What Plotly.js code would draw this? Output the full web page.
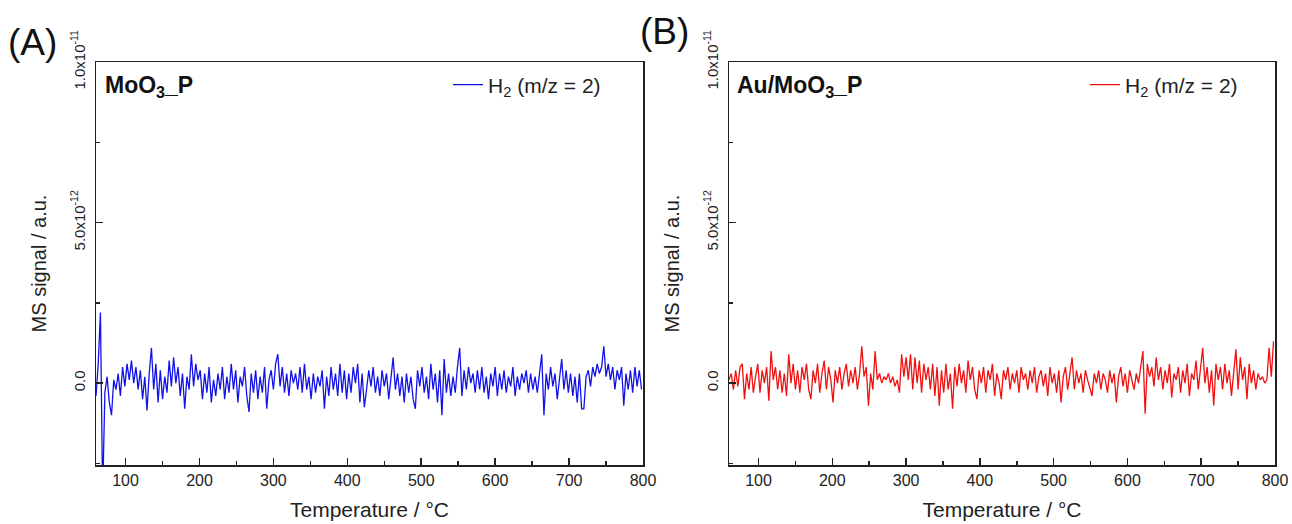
<!DOCTYPE html>
<html>
<head>
<meta charset="utf-8">
<script src="https://cdn.plot.ly/plotly-3.0.1.min.js"></script>
<style>
  html, body { margin: 0; padding: 0; background: #ffffff; }
  #chart { width: 1292px; height: 524px; }
</style>
</head>
<body>
<div id="chart"></div>
<script>
// ---- Data (signal values in units of 1e-12 a.u.) ----
const T_START = 60;      // first temperature sample, °C
const T_STEP = 3;        // temperature sampling step, °C
const SIGNAL_UNIT = 1e-12;

// Panel (A) MoO3_P, H2 (m/z = 2)
const h2_MoO3_P = [
  -0.4, 0.6, 2.2, -3.5,
  -0.3, 0.2, -0.6, -1.0, 0.1, -0.2, 0.3, -0.4, 0.5, -0.1,
  0.6, 0.1, 0.7, 0.0, 0.5, -0.2, 0.4, -0.5, 0.2, -0.85,
  0.3, 1.1, -0.2, 0.6, -0.6, 0.4, -0.5, 0.2, -0.3, 0.7,
  -0.1, 0.8, 0.0, 0.5, -0.4, 0.3, -0.8, 0.2, -0.2, 0.9,
  -0.1, 0.6, 0.1, 0.4, -0.5, 0.3, -0.3, 0.5, -0.6, 0.1,
  -0.4, 0.3, -0.2, 0.5, -0.5, 0.2, -0.3, 0.6, -0.2, 0.4,
  -0.6, 0.2, -0.1, 0.5, -0.4, -0.9, 0.3, -0.3, 0.4, -0.5,
  0.2, -0.3, 0.5, -0.8, 0.1, 0.4, -0.2, 0.6, 0.9, -0.1,
  0.5, -0.3, 0.3, -0.4, 0.4, 0.0, 0.3, -0.2, 0.5, -0.3,
  0.6, -0.2, 0.2, -0.5, 0.3, -0.3, 0.2, -0.1, 0.4, -0.8,
  0.2, -0.4, 0.5, -0.2, 0.3, -0.4, 0.6, -0.3, 0.4, -0.5,
  0.3, -0.3, 0.5, 0.0, 0.6, -0.6, 0.3, -0.75, -0.2, 0.4,
  -0.1, 0.5, -0.3, 0.2, -0.4, 0.4, -0.1, 0.3, -0.5, 0.1,
  0.8, -0.2, 0.3, -0.4, 0.2, -0.6, 0.3, -0.3, 0.2, -0.5,
  -0.8, 0.4, -0.1, 0.5, -0.3, 0.2, -0.5, 0.6, -0.2, 0.3,
  -0.6, 0.4, -1.0, 0.75, -0.3, 0.3, -0.4, 0.2, -0.3, 0.5,
  1.1, -0.4, 0.4, -0.2, 0.5, 0.0, 0.3, -0.3, 0.4, -0.2,
  0.5, -0.3, 0.2, -0.5, 0.3, -0.1, 0.5, -0.4, 0.3, -0.2,
  0.4, -0.3, 0.2, -0.1, 0.5, -0.4, 0.2, -0.2, 0.3, 0.0,
  0.4, -0.3, 0.3, -0.2, 0.2, -0.3, 0.4, 0.9, -1.0, 0.3,
  -0.2, 0.5, -0.1, 0.3, -0.5, 0.2, 0.75, -0.2, 0.4, -0.3,
  0.3, -0.4, 0.2, -0.6, 0.3, -0.8, -0.8, 0.2, 0.4, -0.1,
  0.5, 0.2, 0.6, 0.3, 0.5, 1.15, 0.2, 0.6, 0.1, 0.5,
  -0.2, 0.4, 0.1, 0.5, -0.7, 0.3, -0.2, 0.4, -0.3, 0.5,
  -0.1, 0.4, -0.2
];

// Panel (B) Au/MoO3_P, H2 (m/z = 2)
const h2_AuMoO3_P = [
  0.1, 0.3, -0.2, 0.4,
  -0.1, 0.5, 0.6, -0.5, 0.3, -0.2, 0.5, -0.3, 0.2, 0.6,
  -0.3, 0.4, 0.0, 0.5, -0.55, 1.0, 0.1, 0.5, -0.2, 0.4,
  -0.3, 0.3, -0.4, 0.9, 0.0, 0.6, -0.2, 0.4, -0.3, 0.5,
  0.1, 0.6, -0.2, -0.5, 0.4, 0.0, 0.6, -0.3, 0.3, 0.7,
  -0.2, 0.5, 0.1, -0.6, 0.4, 0.0, 0.5, -0.2, 0.3, 0.6,
  -0.1, 0.4, 0.0, 0.5, -0.2, 0.3, 1.15, 0.2, 0.5, -0.7,
  0.3, -0.2, 1.0, 0.1, 0.3, 0.0, 0.2, 0.1, 0.3, 0.0,
  0.2, -0.1, 0.1, -0.3, 0.9, 0.2, 0.8, 0.1, 0.9, -0.2,
  0.8, 0.0, 0.7, -0.3, 0.6, 0.1, 0.5, -0.2, 0.6, -0.4,
  0.5, -0.7, 0.4, -0.3, 0.6, -0.2, 0.3, -0.8, 0.5, -0.1,
  0.6, 0.0, 0.4, -0.3, 0.7, 0.1, 0.5, -0.2, -0.5, 0.4,
  0.0, 0.5, -0.3, 0.4, 0.1, 0.6, -0.4, 0.3, 0.0, -0.5,
  0.4, 0.1, 0.5, -0.2, 0.3, 0.0, 0.4, -0.3, 0.5, 0.1,
  0.3, -0.2, 0.4, 0.0, 0.5, -0.3, 0.2, 0.4, -0.1, 0.3,
  -0.4, 0.5, 0.0, 0.3, -0.3, 0.4, -0.6, 0.2, 0.5, -0.2,
  0.3, 0.8, -0.2, 0.4, 0.0, 0.3, -0.3, 0.4, 0.1, -0.2,
  -0.4, 0.3, 0.0, 0.4, -0.2, 0.3, 0.1, -0.3, 0.4, 0.0,
  0.3, -0.6, 0.2, 0.5, -0.1, 0.3, -0.3, 0.4, 0.1, -0.2,
  0.3, 0.0, 0.5, 1.0, -0.95, 0.6, 0.2, 0.5, -0.1, 0.8,
  0.1, 0.5, -0.2, 0.4, 0.0, 0.6, -0.45, 0.3, 0.1, 0.5,
  -0.3, 0.4, 0.0, 0.6, -0.4, 0.3, 0.1, 0.7, -0.2, 0.4,
  1.1, 0.0, 0.5, -0.3, 0.4, -0.7, 0.6, 0.1, 0.5, -0.2,
  0.6, 0.0, 0.4, -0.4, 0.3, 1.05, -0.2, 0.8, 0.1, 0.5,
  -0.5, 0.6, 0.0, 0.4, -0.2, 0.3, 0.1, 0.2, 0.0, 0.1,
  1.1, 0.2, 1.3
];

const panelLabels = ['(A)', '(B)'];
const sampleNames = ['MoO<sub>3</sub>_P', 'Au/MoO<sub>3</sub>_P'];
const seriesName = 'H<sub>2</sub> (m/z = 2)';
const yTickVals = [0, 5e-12, 1e-11];
const yTickText = ['0.0', '5.0x10<sup>-12</sup>', '1.0x10<sup>-11</sup>'];
const xTitle = 'Temperature / °C';
const yTitle = 'MS signal / a.u.';

// ---- Build traces ----
function temps(n) { const t = []; for (let i = 0; i < n; i++) t.push(T_START + i * T_STEP); return t; }
const yA = h2_MoO3_P.map(v => v * SIGNAL_UNIT);
const yB = h2_AuMoO3_P.map(v => v * SIGNAL_UNIT);

const W = 1292, H = 524;
const FONT = 'Liberation Sans, Arial, sans-serif';

const traces = [
  { x: temps(yA.length), y: yA, type: 'scatter', mode: 'lines', name: seriesName,
    line: { color: '#1212e8', width: 1.3 }, xaxis: 'x', yaxis: 'y', legend: 'legend' },
  { x: temps(yB.length), y: yB, type: 'scatter', mode: 'lines', name: seriesName,
    line: { color: '#f01010', width: 1.3 }, xaxis: 'x2', yaxis: 'y2', legend: 'legend2' }
];

function xAxis(domain, anchor) {
  return {
    domain: domain, anchor: anchor, range: [60, 800],
    tickmode: 'linear', tick0: 0, dtick: 100,
    ticks: 'inside', ticklen: 7, tickwidth: 1.5, tickcolor: '#222',
    minor: { tickmode: 'linear', tick0: 0, dtick: 50, ticks: 'inside', ticklen: 4, tickwidth: 1.5, tickcolor: '#222' },
    showline: true, linecolor: '#222', linewidth: 1.5, mirror: true,
    showgrid: false, zeroline: false,
    tickfont: { family: FONT, size: 16, color: '#222' },
    title: { text: xTitle, font: { family: FONT, size: 21, color: '#222' }, standoff: 14 }
  };
}
function yAxis(domain, anchor) {
  return {
    domain: domain, anchor: anchor, range: [-2.55e-12, 1e-11],
    tickmode: 'array', tickvals: yTickVals, ticktext: yTickText, tickangle: -90,
    ticks: 'inside', ticklen: 7, tickwidth: 1.5, tickcolor: '#222',
    ticklabelstandoff: 4,
    minor: { tickmode: 'linear', tick0: 0, dtick: 2.5e-12, ticks: 'inside', ticklen: 4, tickwidth: 1.5, tickcolor: '#222' },
    showline: true, linecolor: '#222', linewidth: 1.5, mirror: true,
    showgrid: false, zeroline: false,
    tickfont: { family: FONT, size: 15, color: '#222' },
    title: { text: yTitle, font: { family: FONT, size: 20, color: '#222' }, standoff: 16 }
  };
}

const yDom = [1 - 465 / H, 1 - 62 / H];
const layout = {
  width: W, height: H,
  margin: { l: 0, r: 0, t: 0, b: 0 },
  paper_bgcolor: '#ffffff', plot_bgcolor: '#ffffff',
  font: { family: FONT, color: '#222' },
  xaxis: xAxis([96 / W, 643 / W], 'y'),
  yaxis: yAxis(yDom, 'x'),
  xaxis2: xAxis([729 / W, 1275 / W], 'y2'),
  yaxis2: yAxis(yDom, 'x2'),
  showlegend: true,
  legend: { x: 448 / W, y: 1 - 85 / H, xanchor: 'left', yanchor: 'middle', bgcolor: 'rgba(0,0,0,0)',
            font: { family: FONT, size: 21, color: '#222' } },
  legend2: { x: 1085 / W, y: 1 - 85 / H, xanchor: 'left', yanchor: 'middle', bgcolor: 'rgba(0,0,0,0)',
             font: { family: FONT, size: 21, color: '#222' } },
  annotations: [
    { text: panelLabels[0], xref: 'paper', yref: 'paper', x: 6 / W, y: 1 - 43 / H, xanchor: 'left', yanchor: 'middle',
      showarrow: false, font: { family: FONT, size: 37, color: '#111' } },
    { text: panelLabels[1], xref: 'paper', yref: 'paper', x: 638 / W, y: 1 - 31 / H, xanchor: 'left', yanchor: 'middle',
      showarrow: false, font: { family: FONT, size: 37, color: '#111' } },
    { text: '<b>' + sampleNames[0] + '</b>', xref: 'paper', yref: 'paper', x: 103 / W, y: 1 - 86 / H, xanchor: 'left', yanchor: 'middle',
      showarrow: false, font: { family: FONT, size: 23, color: '#111' } },
    { text: '<b>' + sampleNames[1] + '</b>', xref: 'paper', yref: 'paper', x: 735 / W, y: 1 - 86 / H, xanchor: 'left', yanchor: 'middle',
      showarrow: false, font: { family: FONT, size: 23, color: '#111' } }
  ]
};

Plotly.newPlot('chart', traces, layout, { displayModeBar: false, staticPlot: true });
</script>
</body>
</html>
